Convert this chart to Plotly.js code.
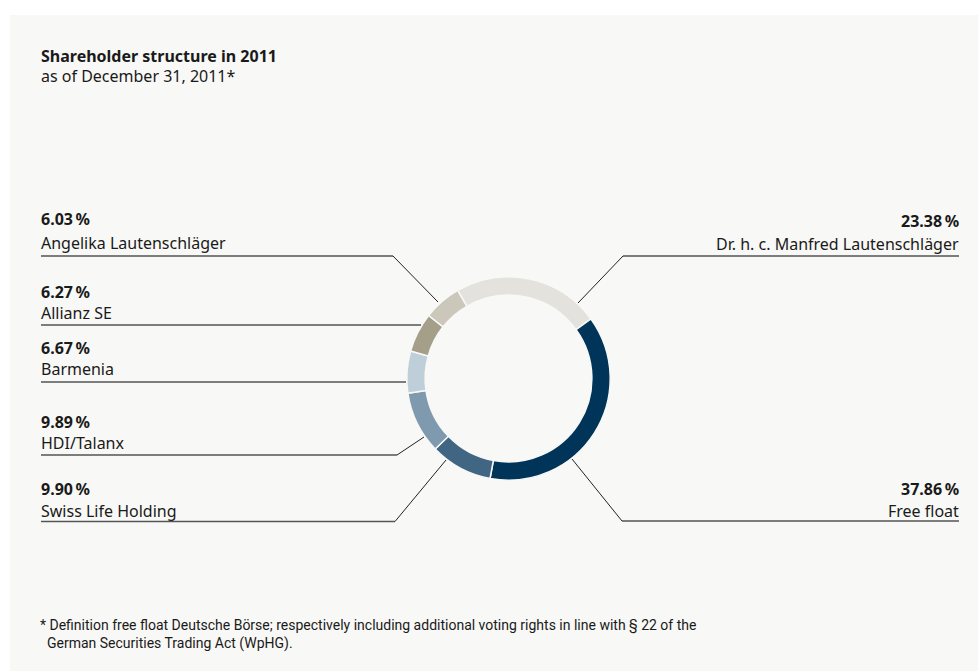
<!DOCTYPE html>
<html>
<head>
<meta charset="utf-8">
<script src="https://cdn.plot.ly/plotly-3.0.1.min.js"></script>
<style>html,body{margin:0;padding:0;background:#fff;}#chart{width:978px;height:671px;}</style>
</head>
<body>
<div id="chart"></div>
<script>
// ---- data ----
const labels = ["Dr. h. c. Manfred Lautenschläger", "Free float", "Swiss Life Holding", "HDI/Talanx", "Barmenia", "Allianz SE", "Angelika Lautenschläger"];
const values = [23.38, 37.86, 9.90, 9.89, 6.67, 6.27, 6.03];
const colors = ["#e3e2dd", "#003559", "#416683", "#7f9aae", "#bfcfda", "#a59f8a", "#cbc7bb"];
const titleText = "Shareholder structure in 2011";
const subtitleText = "as of December 31, 2011*";
const footnoteText = "* Definition free float Deutsche Börse; respectively including additional voting rights in line with § 22 of the<br>  German Securities Trading Act (WpHG).";

// ---- layout helpers (pixel -> paper) ----
const W = 978, H = 671;
const px = x => x / W;
const py = y => 1 - y / H;

const cx = 508.5, cy = 378.5, R = 101.7;

// label placement: [index, side, y of value line, y of name line, underline y, underline inner x, leader end x, leader end y]
const placements = [
  [6, 'left', 219, 243, 256, 393, 438, 302],
  [5, 'left', 292, 313, 325, 421, null, null],
  [4, 'left', 348, 369, 382, 406, null, null],
  [3, 'left', 422, 443, 455, 397, 424, 437],
  [2, 'left', 489, 511, 521.5, 395, 446, 460],
  [0, 'right', 221, 244, 256, 623, 578, 303],
  [1, 'right', 489, 511, 521, 622, 572, 459]
];

const annotations = [];
const shapes = [
  {type: 'rect', xref: 'paper', yref: 'paper', x0: px(10), x1: 1, y0: 0, y1: py(15),
   fillcolor: '#f8f8f6', line: {width: 0}, layer: 'below'}
];
const font = "'Noto Sans', 'Open Sans', sans-serif";
const fs = 16;

placements.forEach(p => {
  const [i, side, yv, yn, yu, xu, xl, yl] = p;
  const left = side === 'left';
  const xText = left ? 39 : 961;
  annotations.push({
    xref: 'paper', yref: 'paper', x: px(xText), y: py(yv), xanchor: left ? 'left' : 'right', yanchor: 'middle',
    text: '<b>' + values[i].toFixed(2) + '\u2009%</b>', showarrow: false,
    font: {family: font, size: fs, color: '#1a1a1a'}
  });
  annotations.push({
    xref: 'paper', yref: 'paper', x: px(xText), y: py(yn), xanchor: left ? 'left' : 'right', yanchor: 'middle',
    text: labels[i], showarrow: false,
    font: {family: font, size: fs, color: '#1a1a1a'}
  });
  const xOuter = left ? 41 : 959;
  shapes.push({type: 'line', xref: 'paper', yref: 'paper', x0: px(xOuter), x1: px(xu), y0: py(yu), y1: py(yu),
    line: {color: '#555555', width: 1.3}});
  if (xl !== null) {
    shapes.push({type: 'line', xref: 'paper', yref: 'paper', x0: px(xu), x1: px(xl), y0: py(yu), y1: py(yl),
      line: {color: '#222222', width: 1}});
  }
});

annotations.push({xref: 'paper', yref: 'paper', x: px(39), y: py(56), xanchor: 'left', yanchor: 'middle',
  text: '<b>' + titleText + '</b>', showarrow: false, font: {family: font, size: fs, color: '#1a1a1a'}});
annotations.push({xref: 'paper', yref: 'paper', x: px(39), y: py(76), xanchor: 'left', yanchor: 'middle',
  text: subtitleText, showarrow: false, font: {family: font, size: fs, color: '#1a1a1a'}});
annotations.push({xref: 'paper', yref: 'paper', x: px(38), y: py(634), xanchor: 'left', yanchor: 'middle', align: 'left',
  text: footnoteText, showarrow: false, font: {family: "'Liberation Sans Narrow', 'Roboto', sans-serif", size: 14, color: '#1a1a1a'}});

const trace = {
  type: 'pie',
  labels: labels,
  values: values,
  sort: false,
  direction: 'clockwise',
  rotation: -30,
  hole: 0.82,
  textinfo: 'none',
  hoverinfo: 'none',
  showlegend: false,
  marker: {colors: colors, line: {color: '#f8f8f6', width: 1.5}},
  domain: {x: [px(cx - R), px(cx + R)], y: [py(cy + R), py(cy - R)]}
};

const layout = {
  width: W, height: H,
  margin: {l: 0, r: 0, t: 0, b: 0},
  paper_bgcolor: '#ffffff',
  plot_bgcolor: '#f8f8f6',
  showlegend: false,
  annotations: annotations,
  shapes: shapes
};

Plotly.newPlot('chart', [trace], layout, {displayModeBar: false, staticPlot: true});
</script>
</body>
</html>
